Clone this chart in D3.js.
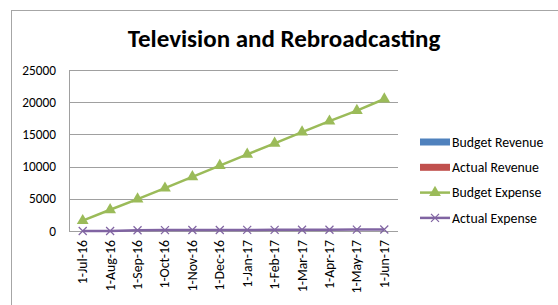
<!DOCTYPE html>
<html>
<head>
<meta charset="utf-8">
<script src="https://cdn.jsdelivr.net/npm/d3@7"></script>
<style>
  body { margin: 0; background: #fff; }
  text { font-family: Calibri, Carlito, "Liberation Sans", Arial, sans-serif; }
</style>
</head>
<body>
<svg id="chart" width="558" height="305"></svg>
<script>
var months = ["1-Jul-16", "1-Aug-16", "1-Sep-16", "1-Oct-16", "1-Nov-16", "1-Dec-16",
              "1-Jan-17", "1-Feb-17", "1-Mar-17", "1-Apr-17", "1-May-17", "1-Jun-17"];
var budgetRevenue = [0, 0, 0, 0, 0, 0, 0, 0, 0, 0, 0, 0];
var actualRevenue = [0, 0, 0, 0, 0, 0, 0, 0, 0, 0, 0, 0];
var budgetExpense = [1600, 3300, 4950, 6650, 8400, 10150, 11900, 13600, 15350, 17050, 18700, 20500];
var actualExpense = [0, 0, 120, 140, 150, 160, 170, 180, 190, 200, 220, 240];
var yTicks = [0, 5000, 10000, 15000, 20000, 25000];
var legendNames = ["Budget Revenue", "Actual Revenue", "Budget Expense", "Actual Expense"];

var svg = d3.select("#chart");

// outer chart frame (runs off the right and bottom)
svg.append("rect")
    .attr("x", 11.5).attr("y", 10.5)
    .attr("width", 600).attr("height", 400)
    .attr("fill", "none")
    .attr("stroke", "#a6a6a6");

svg.append("text")
    .attr("x", 284).attr("y", 47)
    .attr("text-anchor", "middle")
    .attr("font-size", 25)
    .attr("font-weight", "bold")
    .text("Television and Rebroadcasting");

var xScale = d3.scaleBand().domain(months).range([69, 398]);
var yScale = d3.scaleLinear().domain([0, 25000]).range([231, 70]);

// gridlines
svg.selectAll(".grid")
    .data(yTicks)
    .enter()
    .append("line")
    .attr("class", "grid")
    .attr("x1", 69).attr("x2", 398)
    .attr("y1", function (d) { return Math.round(yScale(d)) + 0.5; })
    .attr("y2", function (d) { return Math.round(yScale(d)) + 0.5; })
    .attr("stroke", "#a0a0a0");

// y axis line
svg.append("line")
    .attr("x1", 69.5).attr("x2", 69.5)
    .attr("y1", 70).attr("y2", 232)
    .attr("stroke", "#a0a0a0");

svg.selectAll(".ylab")
    .data(yTicks)
    .enter()
    .append("text")
    .attr("class", "ylab")
    .attr("x", 56)
    .attr("y", function (d) { return yScale(d) + 4.5; })
    .attr("text-anchor", "end")
    .attr("font-size", 13.3)
    .text(function (d) { return d; });

svg.selectAll(".xlab")
    .data(months)
    .enter()
    .append("text")
    .attr("class", "xlab")
    .attr("transform", function (d) {
        return "translate(" + (xScale(d) + xScale.bandwidth() / 2 + 4.5) + ",240) rotate(-90)";
    })
    .attr("text-anchor", "end")
    .attr("font-size", 13.8)
    .text(function (d) { return d; });

// zero-value revenue bars
var inner = d3.scaleBand().domain([0, 1]).range([0, xScale.bandwidth()]).padding(0.3);
[budgetRevenue, actualRevenue].forEach(function (vals, k) {
    svg.selectAll(".bar" + k)
        .data(vals)
        .enter()
        .append("rect")
        .attr("x", function (d, i) { return xScale(months[i]) + inner(k); })
        .attr("y", function (d) { return yScale(d); })
        .attr("width", inner.bandwidth())
        .attr("height", function (d) { return yScale(0) - yScale(d); })
        .attr("fill", k === 0 ? "#4f81bd" : "#c0504d");
});

var line = d3.line()
    .x(function (d, i) { return xScale(months[i]) + xScale.bandwidth() / 2; })
    .y(function (d) { return yScale(d); });

svg.append("path")
    .datum(actualExpense)
    .attr("fill", "none")
    .attr("stroke", "#8064a2")
    .attr("stroke-width", 2.5)
    .attr("d", line);

svg.append("path")
    .datum(budgetExpense)
    .attr("fill", "none")
    .attr("stroke", "#9bbb59")
    .attr("stroke-width", 2.5)
    .attr("d", line);

var tri = d3.symbol().type(d3.symbolTriangle).size(60);

svg.selectAll(".tri")
    .data(budgetExpense)
    .enter()
    .append("path")
    .attr("class", "tri")
    .attr("transform", function (d, i) {
        return "translate(" + (xScale(months[i]) + xScale.bandwidth() / 2) + "," + yScale(d) + ")";
    })
    .attr("d", tri)
    .attr("fill", "#9bbb59");

function cross(g) {
    g.append("path")
        .attr("d", "M-4,-4L4,4M-4,4L4,-4")
        .attr("stroke", "#8064a2")
        .attr("stroke-width", 1.2)
        .attr("fill", "none");
}

svg.selectAll(".xm")
    .data(actualExpense)
    .enter()
    .append("g")
    .attr("class", "xm")
    .attr("transform", function (d, i) {
        return "translate(" + (xScale(months[i]) + xScale.bandwidth() / 2) + "," + yScale(d) + ")";
    })
    .call(cross);

// legend
var legend = svg.selectAll(".leg")
    .data(legendNames)
    .enter()
    .append("g")
    .attr("class", "leg")
    .attr("transform", function (d, i) { return "translate(420," + (142 + i * 25.3) + ")"; });

legend.append("text")
    .attr("x", 32).attr("y", 4.7)
    .attr("font-size", 13.8)
    .text(function (d) { return d; });

legend.filter(function (d, i) { return i < 2; })
    .append("rect")
    .attr("x", 0).attr("y", -3.5)
    .attr("width", 30).attr("height", 7)
    .attr("fill", function (d, i) { return i === 0 ? "#4f81bd" : "#c0504d"; });

legend.filter(function (d, i) { return i >= 2; })
    .append("line")
    .attr("x1", 0).attr("x2", 30)
    .attr("stroke", function (d, i) { return i === 0 ? "#9bbb59" : "#8064a2"; })
    .attr("stroke-width", 2.5);

legend.filter(function (d, i) { return i === 2; })
    .append("path")
    .attr("transform", "translate(15,0)")
    .attr("d", tri)
    .attr("fill", "#9bbb59");

legend.filter(function (d, i) { return i === 3; })
    .append("g")
    .attr("transform", "translate(15,0)")
    .call(cross);
</script>
</body>
</html>
